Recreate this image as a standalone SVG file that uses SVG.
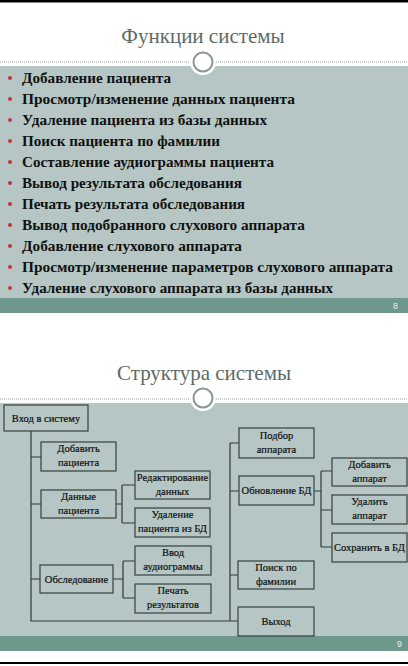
<svg xmlns="http://www.w3.org/2000/svg" width="408" height="666" viewBox="0 0 408 666">
<style>
.bg{fill:#b5c6c4}
.ft{fill:#6f988d}
.title{font-family:"Liberation Serif",serif;font-size:21px;fill:#5d6b67;text-anchor:middle}
.bl{font-family:"Liberation Serif",serif;font-size:15px;font-weight:bold;fill:#111}
.dot{fill:#c8323c}
.dash{stroke:#9aa3a1;stroke-width:1;stroke-dasharray:1 1}
.ring{fill:#fff;stroke:#8c9693;stroke-width:2}
.num{font-family:"Liberation Sans",sans-serif;font-size:9px;fill:#e8efed;text-anchor:end}
.box rect{fill:#b5c6c4;stroke:#34423f;stroke-width:1.2}
.box text{font-family:"Liberation Serif",serif;font-size:10.5px;fill:#111;stroke:#111;stroke-width:0.2;text-anchor:middle}
#connectors path{fill:none;stroke:#2e3a38;stroke-width:1.2}
</style>
<rect width="408" height="666" fill="#fff"/>
<rect x="0" y="0" width="408" height="2.5" fill="#000"/>
<rect x="0" y="662" width="408" height="2" fill="#000"/>

<!-- Slide 1 -->
<g id="slide1">
<text class="title" x="203" y="43">Функции системы</text>
<rect class="bg" x="0" y="66" width="408" height="232"/>
<rect class="ft" x="0" y="298" width="408" height="15"/>
<text class="num" x="398" y="309">8</text>
<line class="dash" x1="0" y1="62" x2="408" y2="62"/>
<circle cx="203" cy="62" r="13" fill="#fff"/>
<circle class="ring" cx="203" cy="62" r="9.5"/>
<g id="bullets">
<circle class="dot" cx="10" cy="78" r="2"/><text class="bl" x="22" y="83" textLength="149" lengthAdjust="spacingAndGlyphs">Добавление пациента</text>
<circle class="dot" cx="10" cy="99" r="2"/><text class="bl" x="22" y="104" textLength="273" lengthAdjust="spacingAndGlyphs">Просмотр/изменение данных пациента</text>
<circle class="dot" cx="10" cy="120" r="2"/><text class="bl" x="22" y="125" textLength="245" lengthAdjust="spacingAndGlyphs">Удаление пациента из базы данных</text>
<circle class="dot" cx="10" cy="141" r="2"/><text class="bl" x="22" y="146" textLength="198" lengthAdjust="spacingAndGlyphs">Поиск пациента по фамилии</text>
<circle class="dot" cx="10" cy="162" r="2"/><text class="bl" x="22" y="167" textLength="252" lengthAdjust="spacingAndGlyphs">Составление аудиограммы пациента</text>
<circle class="dot" cx="10" cy="183" r="2"/><text class="bl" x="22" y="188" textLength="220" lengthAdjust="spacingAndGlyphs">Вывод результата обследования</text>
<circle class="dot" cx="10" cy="204" r="2"/><text class="bl" x="22" y="209" textLength="223" lengthAdjust="spacingAndGlyphs">Печать результата обследования</text>
<circle class="dot" cx="10" cy="225" r="2"/><text class="bl" x="22" y="230" textLength="283" lengthAdjust="spacingAndGlyphs">Вывод подобранного слухового аппарата</text>
<circle class="dot" cx="10" cy="246" r="2"/><text class="bl" x="22" y="251" textLength="220" lengthAdjust="spacingAndGlyphs">Добавление слухового аппарата</text>
<circle class="dot" cx="10" cy="267" r="2"/><text class="bl" x="22" y="272" textLength="371" lengthAdjust="spacingAndGlyphs">Просмотр/изменение параметров слухового аппарата</text>
<circle class="dot" cx="10" cy="288" r="2"/><text class="bl" x="22" y="293" textLength="311" lengthAdjust="spacingAndGlyphs">Удаление слухового аппарата из базы данных</text>
</g>
</g>

<!-- Slide 2 -->
<g id="slide2">
<text class="title" x="204" y="380">Структура системы</text>
<rect class="bg" x="0" y="403" width="408" height="233"/>
<rect class="ft" x="0" y="636" width="408" height="15"/>
<text class="num" x="402" y="647">9</text>
<line class="dash" x1="0" y1="399" x2="408" y2="399"/>
<circle cx="203" cy="398" r="13" fill="#fff"/>
<circle class="ring" cx="203" cy="398" r="9.5"/>
</g>

<g id="connectors">
<path d="M31 431V621H238"/>
<path d="M31 457H41M31 504H41M31 579H40"/>
<path d="M230 443V621M230 443H239M230 491H239M230 575H238"/>
<path d="M116 504H122M122 485V523M122 485H135M122 523H135"/>
<path d="M113 579H123M123 561V598M123 561H135M123 598H135"/>
<path d="M314 491H321M321 471V547M321 471H332M321 510H332M321 547H332"/>
</g>

<g id="n_vhod" class="box"><rect x="4" y="405" width="84" height="26"/><text x="46" y="421.5">Вход в систему</text></g>
<g id="n_dob_pac" class="box"><rect x="41" y="442" width="75" height="29"/><text x="78.5" y="452">Добавить</text><text x="78.5" y="466">пациента</text></g>
<g id="n_dannye" class="box"><rect x="41" y="490" width="75" height="28"/><text x="78.5" y="499.5">Данные</text><text x="78.5" y="513.5">пациента</text></g>
<g id="n_red" class="box"><rect x="135" y="471" width="75" height="28"/><text x="172.5" y="480.5">Редактирование</text><text x="172.5" y="494.5">данных</text></g>
<g id="n_udal_pac" class="box"><rect x="135" y="508" width="75" height="29"/><text x="172.5" y="518">Удаление</text><text x="172.5" y="532">пациента из БД</text></g>
<g id="n_obsl" class="box"><rect x="40" y="565" width="73" height="28"/><text x="76.5" y="582.5">Обследование</text></g>
<g id="n_vvod" class="box"><rect x="135" y="546" width="76" height="29"/><text x="173" y="556">Ввод</text><text x="173" y="570">аудиограммы</text></g>
<g id="n_pechat" class="box"><rect x="135" y="584" width="76" height="29"/><text x="173" y="594">Печать</text><text x="173" y="608">результатов</text></g>
<g id="n_podbor" class="box"><rect x="239" y="428" width="75" height="30"/><text x="276.5" y="438.5">Подбор</text><text x="276.5" y="452.5">аппарата</text></g>
<g id="n_obnov" class="box"><rect x="239" y="476" width="75" height="29"/><text x="276.5" y="494">Обновление БД</text></g>
<g id="n_dob_app" class="box"><rect x="332" y="458" width="75" height="28"/><text x="369.5" y="467.5">Добавить</text><text x="369.5" y="481.5">аппарат</text></g>
<g id="n_udal_app" class="box"><rect x="332" y="495" width="75" height="29"/><text x="369.5" y="505">Удалить</text><text x="369.5" y="519">аппарат</text></g>
<g id="n_sohr" class="box"><rect x="332" y="533" width="75" height="29"/><text x="369.5" y="551">Сохранить в БД</text></g>
<g id="n_poisk" class="box"><rect x="238" y="561" width="76" height="28"/><text x="276" y="570.5">Поиск по</text><text x="276" y="584.5">фамилии</text></g>
<g id="n_vyhod" class="box"><rect x="238" y="607" width="76" height="29"/><text x="276" y="625">Выход</text></g>
</svg>
